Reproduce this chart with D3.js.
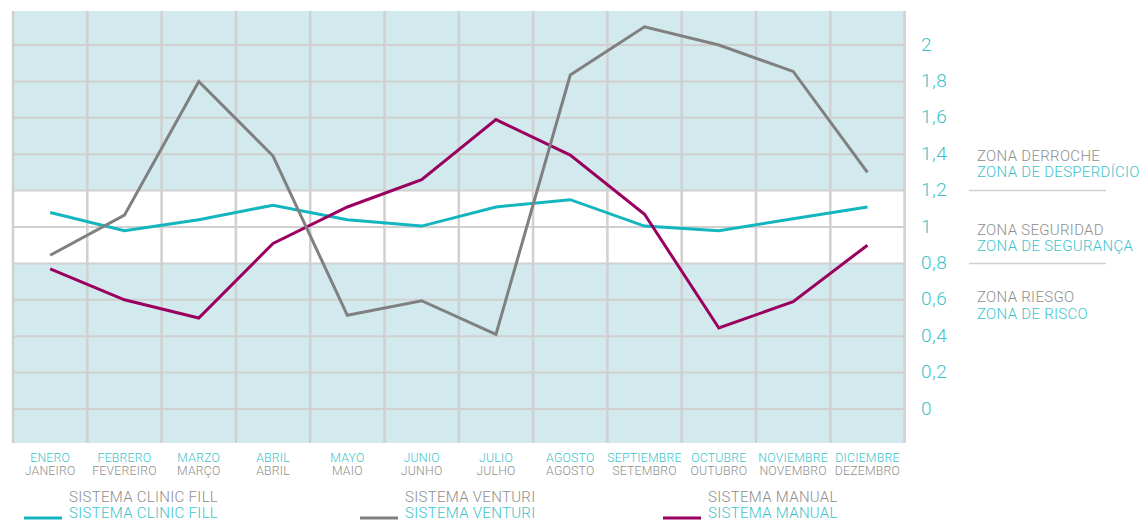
<!DOCTYPE html>
<html>
<head>
<meta charset="utf-8">
<script src="https://cdn.jsdelivr.net/npm/d3@7"></script>
<style>
  html, body { margin: 0; padding: 0; background: #fff; }
  svg { display: block; font-family: Roboto, "Open Sans", sans-serif; }
</style>
</head>
<body>
<svg id="chart" width="1141" height="521"></svg>
<script>
// ---- data ----
const monthsES = ["ENERO","FEBRERO","MARZO","ABRIL","MAYO","JUNIO","JULIO","AGOSTO","SEPTIEMBRE","OCTUBRE","NOVIEMBRE","DICIEMBRE"];
const monthsPT = ["JANEIRO","FEVEREIRO","MARÇO","ABRIL","MAIO","JUNHO","JULHO","AGOSTO","SETEMBRO","OUTUBRO","NOVEMBRO","DEZEMBRO"];
const clinicFill = [1.08, 0.98, 1.04, 1.12, 1.04, 1.005, 1.11, 1.15, 1.005, 0.98, 1.045, 1.11];
const venturi    = [0.845, 1.065, 1.80, 1.39, 0.515, 0.595, 0.41, 1.835, 2.10, 2.0, 1.855, 1.30];
const manual     = [0.77, 0.60, 0.50, 0.91, 1.11, 1.26, 1.59, 1.395, 1.07, 0.445, 0.59, 0.90];
const yTicks = [0, 0.2, 0.4, 0.6, 0.8, 1, 1.2, 1.4, 1.6, 1.8, 2];
const yTickLabels = ["0","0,2","0,4","0,6","0,8","1","1,2","1,4","1,6","1,8","2"];
const safeZone = [0.8, 1.2];
const zones = [
  {es: "ZONA DERROCHE", pt: "ZONA DE DESPERDÍCIO"},
  {es: "ZONA SEGURIDAD", pt: "ZONA DE SEGURANÇA"},
  {es: "ZONA RIESGO", pt: "ZONA DE RISCO"}
];
const seriesNames = [
  {es: "SISTEMA CLINIC FILL", pt: "SISTEMA CLINIC FILL"},
  {es: "SISTEMA VENTURI", pt: "SISTEMA VENTURI"},
  {es: "SISTEMA MANUAL", pt: "SISTEMA MANUAL"}
];

// ---- styles ----
const TEAL = "#13b5be", TEAL_TXT = "#3cc3ca", GRAY = "#808080", GRAY_TXT = "#8e8e8e";
const MAGENTA = "#990060", BG = "#d2eaee", GRID = "#d0d0d0";

const svg = d3.select("#chart");
const plotTop = 11, plotBottom = 443, plotLeft = 13, plotRight = 904.6;

const x = d3.scaleBand().domain(monthsES).range([plotLeft, plotRight]).padding(0);
const y = d3.scaleLinear().domain([0, 2]).range([409, 45]);

// background
svg.append("rect").attr("x", plotLeft).attr("y", plotTop)
  .attr("width", plotRight - plotLeft).attr("height", plotBottom - plotTop).attr("fill", BG);
svg.append("rect").attr("x", plotLeft).attr("y", y(safeZone[1]))
  .attr("width", plotRight - plotLeft).attr("height", y(safeZone[0]) - y(safeZone[1])).attr("fill", "#fff");

// horizontal gridlines
svg.append("g").selectAll("line").data(yTicks).join("line")
  .attr("x1", plotLeft).attr("x2", plotRight)
  .attr("y1", d => y(d)).attr("y2", d => y(d))
  .attr("stroke", GRID).attr("stroke-width", 2);

// vertical gridlines
const vx = monthsES.map(m => x(m)).concat([plotRight]);
svg.append("g").selectAll("line").data(vx).join("line")
  .attr("x1", d => d).attr("x2", d => d)
  .attr("y1", plotTop).attr("y2", plotBottom)
  .attr("stroke", GRID).attr("stroke-width", 2.5);

// y tick labels
svg.append("g").selectAll("text").data(yTicks).join("text")
  .attr("x", 921).attr("y", d => y(d) + 5.5)
  .attr("fill", TEAL_TXT).attr("font-size", 19).attr("font-weight", 300)
  .attr("letter-spacing", 0.5)
  .text((d, i) => yTickLabels[i]);

// month labels
const cx = m => x(m) + x.bandwidth() / 2;
const mg = svg.append("g").attr("text-anchor", "middle").attr("font-size", 12.3).attr("font-weight", 300)
  .attr("letter-spacing", 0.2);
mg.selectAll("text.es").data(monthsES).join("text").attr("class", "es")
  .attr("x", d => cx(d)).attr("y", 462).attr("fill", TEAL_TXT).text(d => d);
mg.selectAll("text.pt").data(monthsPT).join("text").attr("class", "pt")
  .attr("x", (d, i) => cx(monthsES[i])).attr("y", 475).attr("fill", GRAY_TXT).text(d => d);

// lines
const line = d3.line().x((d, i) => cx(monthsES[i])).y(d => y(d));
[[clinicFill, TEAL], [manual, MAGENTA], [venturi, GRAY]].forEach(([data, col]) => {
  svg.append("path").datum(data).attr("d", line)
    .attr("fill", "none").attr("stroke", col).attr("stroke-width", 3)
    .attr("stroke-linejoin", "miter");
});

// zone labels
const zoneBaselines = [[161, 177], [235, 251], [302, 319]];
const zg = svg.append("g").attr("font-size", 15).attr("font-weight", 300).attr("letter-spacing", 0.3);
zones.forEach((z, i) => {
  zg.append("text").attr("x", 977).attr("y", zoneBaselines[i][0]).attr("fill", GRAY_TXT).text(z.es);
  zg.append("text").attr("x", 977).attr("y", zoneBaselines[i][1]).attr("fill", TEAL_TXT).text(z.pt);
});
svg.append("g").selectAll("line").data(safeZone.slice().reverse()).join("line")
  .attr("x1", 969).attr("x2", 1106)
  .attr("y1", d => y(d)).attr("y2", d => y(d))
  .attr("stroke", GRID).attr("stroke-width", 1.5);

// legend
const legendX = [24, 360, 663];
const legendCols = [TEAL, GRAY, MAGENTA];
const lg = svg.append("g").attr("font-size", 15).attr("font-weight", 300).attr("letter-spacing", 0.3);
seriesNames.forEach((s, i) => {
  lg.append("line").attr("x1", legendX[i]).attr("x2", legendX[i] + 38)
    .attr("y1", 518).attr("y2", 518).attr("stroke", legendCols[i]).attr("stroke-width", 3);
  lg.append("text").attr("x", legendX[i] + 45).attr("y", 502).attr("fill", GRAY_TXT).text(s.es);
  lg.append("text").attr("x", legendX[i] + 45).attr("y", 518).attr("fill", TEAL_TXT).text(s.pt);
});
</script>
</body>
</html>
